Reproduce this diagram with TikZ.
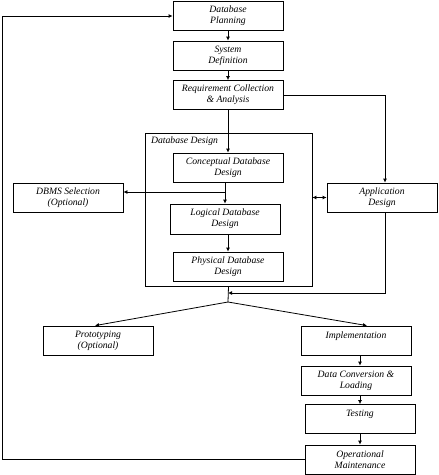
\documentclass[tikz,border=0pt]{standalone}
\usepackage{fontspec}
\setmainfont{Liberation Serif}
\usetikzlibrary{arrows.meta}

\begin{document}
\begin{tikzpicture}[x=1pt,y=-1pt,line width=0.8pt,
  >={Latex[length=4pt,width=4pt]},
  box/.style={draw,minimum width=110pt,minimum height=29pt,inner sep=1pt,
    align=center,font=\fontsize{9.7}{11}\selectfont\itshape}]
\useasboundingbox (0,0) rectangle (439,475);
  \node[box] (plan) at (228,16) {Database\\Planning};
  \node[box] (sysdef) at (228,55.5) {System\\Definition};
  \node[box] (req) at (228,95) {Requirement Collection\\\& Analysis};
% the design stage
  \node[draw,minimum width=167pt,minimum height=153pt] (dbd) at (228.5,209.5) {};
  \node[anchor=north west,inner sep=2pt,font=\fontsize{9.7}{11}\selectfont\itshape] (dbdlabel) at ([xshift=4pt,yshift=-2pt]dbd.north west) {Database Design};
  \node[box] (concept) at (228,167.5) {Conceptual Database\\Design};
  \node[box,minimum height=30pt] (logic) at (225,219) {Logical Database\\Design};
  \node[box] (phys) at (228,266.5) {Physical Database\\Design};
  \node[box] (dbms) at (68,197.5) {DBMS Selection\\(Optional)};
  \node[box] (app) at (382,197.5) {Application\\Design};
% after design
  \node[box] (proto) at (98,340.5) {Prototyping\\(Optional)};
  \node[box] (impl) at (356,340.5) {Implementation\\\mbox{}};
  \node[box] (conv) at (356,380.5) {Data Conversion \&\\Loading};
  \node[box] (test) at (360,419) {Testing\\\mbox{}};
  \node[box] (maint) at (360,459.5) {Operational\\Maintenance};
  \coordinate (branch) at (225,192);
  \coordinate (merge) at (228,293);
  \coordinate (split) at (228,302);
  \coordinate (loop) at (2,459.5);
% connectors
  \draw[->] (plan) -- (sysdef);
  \draw[->] (sysdef) -- (req);
  \draw[->] (req) -- (concept);
  \draw[->] (req.east) -| ([xshift=3pt]app.north);
  \draw[->] (concept.south -| logic.north) -- (logic.north);
  \draw[->] (branch) -- (branch -| dbms.east);
  \draw[->] (logic.south -| phys.north) -- (phys.north);
  \draw[<->] (dbd.east |- app.west) -- (app.west);
  \draw[->] ([xshift=3pt]app.south) |- (merge);
  \draw (dbd.south) -- (split);
  \draw[->] (split) -- ([xshift=-3pt]proto.north);
  \draw[->] (split) -- ([xshift=11pt]impl.north);
  \draw[->] (impl.south -| test.north) -- (conv.north -| test.north);
  \draw[->] (conv.south -| test.north) -- (test.north);
  \draw[->] (test) -- (maint);
  \draw[->] (maint.west) -- (loop) |- (plan.west);
\end{tikzpicture}
\end{document}
